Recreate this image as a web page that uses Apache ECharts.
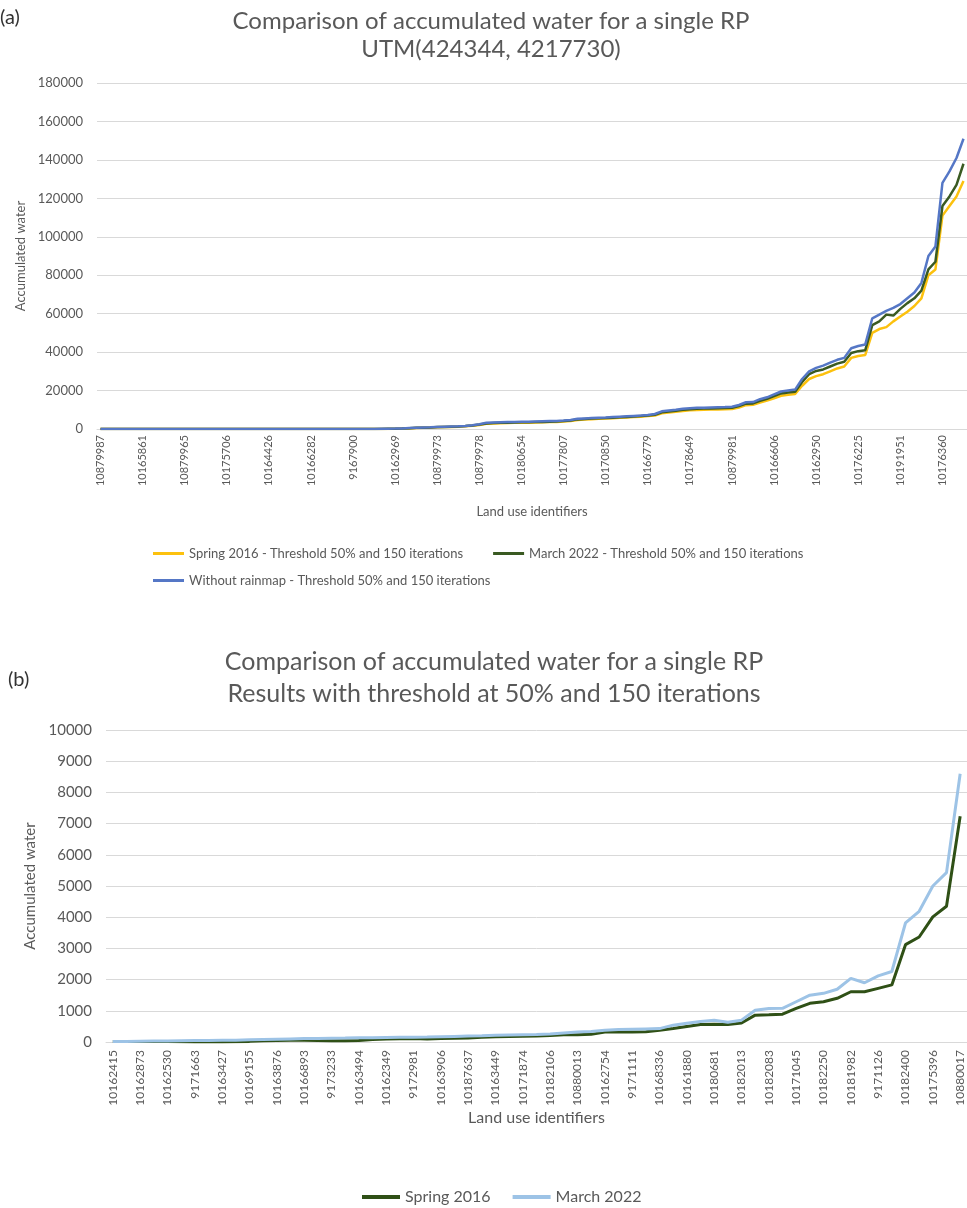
<!DOCTYPE html>
<html>
<head>
<meta charset="utf-8">
<title>Accumulated water comparison</title>
<script src="https://cdn.jsdelivr.net/npm/echarts@6/dist/echarts.min.js"></script>
<style>
	html, body { margin: 0; padding: 0; background: #ffffff; }
	#chart { width: 967px; height: 1208px; }
</style>
</head>
<body>
<div id="chart"></div>
<script>
	// (a) tick labels, one every 6 categories
	var idsA = ['10879987', '10165861', '10879965', '10175706', '10164426', '10166282', '9167900',
		'10162969', '10879973', '10879978', '10180654', '10177807', '10170850', '10166779',
		'10178649', '10879981', '10166606', '10162950', '10176225', '10191951', '10176360'];

	// (a) series, 124 land use parcels sorted by accumulated water
	var springA = [0, 0, 0, 0, 0, 0, 0, 0, 0, 0, 0, 0, 0, 0, 0, 0, 0, 0, 0, 0,
		0, 0, 0, 0, 0, 0, 0, 0, 0, 0, 0, 0, 0, 0, 0, 0, 0, 0, 0, 0,
		0, 50, 100, 200, 300, 500, 600, 700, 900, 1000, 1100, 1200, 1400, 1700, 2100, 2700, 2900, 3000, 3100, 3200,
		3300, 3300, 3400, 3500, 3600, 3700, 3900, 4100, 4700, 4900, 5100, 5300, 5400, 5600, 5800, 6000, 6200, 6400, 6700, 7000,
		8200, 8600, 9000, 9400, 9700, 9900, 10000, 10100, 10200, 10300, 10400, 11200, 12400, 12600, 13800, 14800, 16000, 17300, 17800, 18200,
		22500, 26000, 27500, 28500, 30000, 31500, 32500, 37000, 38000, 38500, 50000, 52000, 53000, 56000, 58500, 61000, 64000, 68000, 80000, 83000,
		111000, 116000, 121000, 129000];
	var marchA = [0, 0, 0, 0, 0, 0, 0, 0, 0, 0, 0, 0, 0, 0, 0, 0, 0, 0, 0, 0,
		0, 0, 0, 0, 0, 0, 0, 0, 0, 0, 0, 0, 0, 0, 0, 0, 0, 0, 0, 0,
		50, 100, 150, 250, 400, 600, 700, 800, 1000, 1100, 1200, 1300, 1500, 1800, 2300, 2900, 3100, 3200, 3300, 3400,
		3500, 3500, 3600, 3700, 3800, 3900, 4100, 4400, 5000, 5200, 5400, 5600, 5700, 5900, 6100, 6300, 6500, 6700, 7000, 7400,
		8700, 9100, 9500, 10000, 10300, 10500, 10600, 10700, 10800, 10900, 11000, 11900, 13200, 13300, 14700, 15700, 17100, 18500, 19000, 19400,
		24500, 28500, 30200, 31000, 32500, 34000, 35000, 39500, 40500, 41000, 54000, 56000, 59500, 59000, 62500, 65500, 68000, 72000, 83000, 87000,
		116000, 121000, 127000, 138000];
	var noRainA = [0, 0, 0, 0, 0, 0, 0, 0, 0, 0, 0, 0, 0, 0, 0, 0, 0, 0, 0, 0,
		0, 0, 0, 0, 0, 0, 0, 0, 0, 0, 0, 0, 0, 0, 0, 0, 0, 0, 0, 50,
		100, 150, 200, 300, 500, 700, 800, 900, 1100, 1200, 1300, 1400, 1600, 2000, 2500, 3200, 3400, 3500, 3600, 3700,
		3800, 3800, 3900, 4000, 4100, 4200, 4400, 4700, 5300, 5500, 5700, 5900, 6000, 6200, 6400, 6600, 6800, 7000, 7300, 7800,
		9200, 9600, 10000, 10500, 10800, 11000, 11100, 11200, 11300, 11400, 11600, 12500, 13900, 14000, 15500, 16500, 18000, 19500, 20000, 20500,
		26000, 30000, 31800, 33000, 34500, 36000, 37000, 42000, 43200, 44000, 57600, 59500, 61500, 63000, 65000, 68000, 71000, 76000, 90000, 95000,
		128000, 134000, 141000, 151000];

	// (b) tick labels, one every 2 categories
	var idsB = ['10162415', '10162873', '10162530', '9171663', '10163427', '10169155', '10163876', '10166893',
		'9173233', '10163494', '10162349', '9172981', '10163906', '10187637', '10163449', '10171874',
		'10182106', '10880013', '10162754', '9171111', '10168336', '10161880', '10180681', '10182013',
		'10182083', '10171045', '10182250', '10181982', '9171126', '10182400', '10175396', '10880017'];

	// (b) series, 63 parcels
	var springB = [15, 15, 15, 15, 15, 10, 0, 0, 0, 5, 20, 40, 50, 60, 60, 50, 40, 40, 50, 80,
		100, 105, 110, 100, 115, 120, 125, 150, 170, 180, 185, 190, 210, 230, 235, 245, 320, 320, 320, 325,
		380, 430, 500, 560, 565, 560, 610, 860, 870, 890, 1075, 1240, 1290, 1400, 1610, 1610, 1720, 1830, 3120, 3365,
		4010, 4350, 7235];
	var marchB = [20, 20, 25, 30, 35, 40, 45, 50, 55, 60, 70, 80, 90, 100, 110, 115, 120, 125, 135, 140,
		145, 150, 155, 160, 170, 180, 190, 200, 215, 225, 235, 240, 260, 290, 320, 340, 380, 400, 410, 420,
		430, 540, 600, 660, 700, 630, 700, 1020, 1075, 1080, 1290, 1500, 1560, 1690, 2040, 1900, 2120, 2260, 3815, 4190,
		5000, 5430, 8600];

	var FONT = 'Lato, "Open Sans", sans-serif';
	var GREY = '#595959';

	function indexList(n) {
		var arr = [];
		for(var i = 0; i < n; i++) {
			arr.push(String(i));
		}
		return arr;
	}

	function lineSeries(name, data, color, width, axisIdx, z) {
		return {
			name: name,
			type: 'line',
			xAxisIndex: axisIdx,
			yAxisIndex: axisIdx,
			data: data,
			showSymbol: false,
			symbol: 'none',
			z: z,
			lineStyle: { color: color, width: width },
			itemStyle: { color: color }
		};
	}

	function valueAxis(gridIdx, max, interval, fontSize, gap) {
		return {
			type: 'value',
			gridIndex: gridIdx,
			min: 0,
			max: max,
			interval: interval,
			name: 'Accumulated water',
			nameLocation: 'middle',
			nameGap: gap,
			nameTextStyle: { color: GREY, fontFamily: FONT, fontSize: fontSize },
			axisLine: { show: false },
			axisTick: { show: false },
			axisLabel: {
				color: GREY,
				fontFamily: FONT,
				fontSize: fontSize,
				margin: 14,
				formatter: function(v) {
					return String(v); // no thousands separator, like the original
				}
			},
			splitLine: { lineStyle: { color: '#d9d9d9', width: 1 } }
		};
	}

	var nameA1 = 'Spring 2016 - Threshold 50% and 150 iterations';
	var nameA2 = 'March 2022 - Threshold 50% and 150 iterations';
	var nameA3 = 'Without rainmap - Threshold 50% and 150 iterations';

	var chart = echarts.init(document.getElementById('chart'), null, { renderer: 'canvas' });

	var option = {
		animation: false,
		backgroundColor: '#ffffff',
		textStyle: { fontFamily: FONT },
		graphic: [
			{ type: 'text', x: 0, y: 18, style: { text: '(a)', font: '20px ' + FONT, fill: '#333', textVerticalAlign: 'middle' } },
			{ type: 'text', x: 491, y: 21, style: { text: 'Comparison of accumulated water for a single RP', font: '24px ' + FONT, fill: GREY, textAlign: 'center', textVerticalAlign: 'middle' } },
			{ type: 'text', x: 491, y: 49, style: { text: 'UTM(424344, 4217730)', font: '24px ' + FONT, fill: GREY, textAlign: 'center', textVerticalAlign: 'middle' } },
			{ type: 'text', x: 8, y: 680, style: { text: '(b)', font: '20px ' + FONT, fill: '#333', textVerticalAlign: 'middle' } },
			{ type: 'text', x: 494, y: 662, style: { text: 'Comparison of accumulated water for a single RP', font: '25px ' + FONT, fill: GREY, textAlign: 'center', textVerticalAlign: 'middle' } },
			{ type: 'text', x: 494, y: 694, style: { text: 'Results with threshold at 50% and 150 iterations', font: '25px ' + FONT, fill: GREY, textAlign: 'center', textVerticalAlign: 'middle' } }
		],
		legend: [{
			left: 148,
			top: 542,
			itemWidth: 31,
			itemHeight: 3,
			itemGap: 30,
			icon: 'rect',
			data: [nameA1, nameA2],
			textStyle: { color: GREY, fontFamily: FONT, fontSize: 13 }
		}, {
			left: 148,
			top: 569,
			itemWidth: 31,
			itemHeight: 3,
			icon: 'rect',
			data: [nameA3],
			textStyle: { color: GREY, fontFamily: FONT, fontSize: 13 }
		}, {
			left: 357,
			top: 1184,
			itemWidth: 38,
			itemHeight: 4,
			itemGap: 22,
			icon: 'rect',
			data: ['Spring 2016', 'March 2022'],
			textStyle: { color: GREY, fontFamily: FONT, fontSize: 16 }
		}],
		grid: [
			{ left: 97, top: 83, width: 874, height: 346, containLabel: false },
			{ left: 106, top: 730, width: 864, height: 312, containLabel: false }
		],
		xAxis: [{
			type: 'category',
			gridIndex: 0,
			boundaryGap: true,
			data: indexList(springA.length),
			name: 'Land use identifiers',
			nameLocation: 'middle',
			nameGap: 76,
			nameTextStyle: { color: GREY, fontFamily: FONT, fontSize: 13 },
			axisLine: { lineStyle: { color: '#d9d9d9' } },
			axisTick: { show: false },
			axisLabel: {
				interval: 5,
				rotate: 90,
				margin: 6,
				color: GREY,
				fontFamily: FONT,
				fontSize: 11,
				formatter: function(v, idx) {
					return idx % 6 === 0 ? idsA[idx / 6] : '';
				}
			}
		}, {
			type: 'category',
			gridIndex: 1,
			boundaryGap: true,
			data: indexList(springB.length),
			name: 'Land use identifiers',
			nameLocation: 'middle',
			nameGap: 63,
			nameTextStyle: { color: GREY, fontFamily: FONT, fontSize: 16 },
			axisLine: { lineStyle: { color: '#d9d9d9' } },
			axisTick: { show: false },
			axisLabel: {
				interval: 1,
				rotate: 90,
				margin: 8,
				color: GREY,
				fontFamily: FONT,
				fontSize: 12,
				formatter: function(v, idx) {
					return idx % 2 === 0 ? idsB[idx / 2] : '';
				}
			}
		}],
		yAxis: [
			valueAxis(0, 180000, 20000, 13, 62),
			valueAxis(1, 10000, 1000, 15, 62)
		],
		series: [
			lineSeries(nameA1, springA, '#fcc10e', 2.5, 0, 2),
			lineSeries(nameA2, marchA, '#3a5a22', 2.5, 0, 3),
			lineSeries(nameA3, noRainA, '#5577c6', 2.5, 0, 4),
			lineSeries('Spring 2016', springB, '#2f5016', 3, 1, 2),
			lineSeries('March 2022', marchB, '#9dc3e6', 3, 1, 3)
		]
	};

	chart.setOption(option);
</script>
</body>
</html>
